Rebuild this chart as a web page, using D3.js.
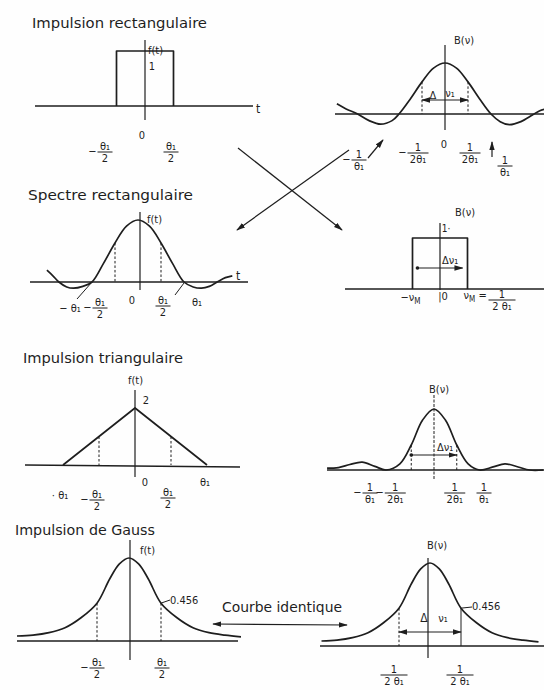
<!DOCTYPE html>
<html><head><meta charset="utf-8">
<script src="https://cdn.jsdelivr.net/npm/d3@7"></script>
<style>
html,body{margin:0;padding:0;background:#fff;}
svg{display:block;}
text{font-family:"DejaVu Sans Condensed","Liberation Sans Narrow","DejaVu Sans",sans-serif;fill:#1e1e1e;}
</style></head><body><svg id="fig" width="544" height="690"></svg>
<script>
// ---- panel titles ----
const titles = ["Impulsion rectangulaire", "Spectre rectangulaire", "Impulsion triangulaire", "Impulsion de Gauss"];
const middleCaption = "Courbe identique";
const gaussLevel = "0.456";

// ---- curves (x, value) ----
// rectangular pulse, x in θ₁/2, height 1
const rectPulse = [[-1, 0], [-1, 1], [1, 1], [1, 0]];
// its spectrum B(ν), x in 1/θ₁
const sincSpectrum = [[-2.35, 0.2], [-2.15, 0.1], [-1.9, 0], [-1.65, -0.13], [-1.4, -0.2], [-1.15, -0.13], [-1, 0],
  [-0.75, 0.3], [-0.5, 0.63], [-0.25, 0.9], [0, 1], [0.25, 0.9], [0.5, 0.63], [0.75, 0.3], [1, 0],
  [1.2, -0.15], [1.4, -0.21], [1.65, -0.15], [1.9, -0.02], [2.05, 0.06], [2.2, 0.1]];
// sinc pulse in time, x in θ₁
const sincTime = [[-1.98, 0.19], [-1.85, 0.1], [-1.72, 0], [-1.55, -0.08], [-1.4, -0.1], [-1.2, -0.07], [-1, 0],
  [-0.75, 0.3], [-0.5, 0.63], [-0.25, 0.9], [0, 1], [0.25, 0.9], [0.5, 0.63], [0.75, 0.3], [1, 0],
  [1.2, -0.08], [1.38, -0.1], [1.55, -0.07], [1.72, 0], [1.9, 0.07], [2.05, 0.1]];
// band-limited spectrum, x in ν_M, height 1
const rectSpectrum = [[-1, 0], [-1, 1], [1, 1], [1, 0]];
// triangular pulse, x in θ₁, peak 2
const triangle = [[-1, 0], [0, 2], [1, 0]];
// its spectrum, x in 1/θ₁
const sincSquared = [[-2.35, 0.03], [-2.1, 0.04], [-1.85, 0.09], [-1.58, 0.13], [-1.3, 0.06], [-1.05, 0],
  [-0.75, 0.1], [-0.5, 0.41], [-0.25, 0.82], [0, 1], [0.25, 0.82], [0.5, 0.41], [0.75, 0.1], [1, 0],
  [1.3, 0.05], [1.56, 0.1], [1.85, 0.05], [2.1, 0], [2.4, 0]];
// gaussian, x in θ₁/2 (time) or 1/(2θ₁) (frequency); 0.456 at ±1
const gauss = [[-3.5, 0.06], [-3, 0.07], [-2.5, 0.1], [-2, 0.16], [-1.5, 0.28], [-1, 0.456], [-0.6, 0.75],
  [-0.3, 0.93], [0, 1], [0.3, 0.93], [0.6, 0.75], [1, 0.456], [1.5, 0.28], [2, 0.16], [2.5, 0.1],
  [3, 0.07], [3.5, 0.05]];

// ---- tick labels: value, sign, numerator / denominator (or plain text) ----
const ticksRectPulse = [{v: -1, sign: "−", num: "θ₁", den: "2"}, {v: 0, text: "0"}, {v: 1, num: "θ₁", den: "2"}];
const ticksSincSpec = [{v: -1, sign: "−", num: "1", den: "θ₁"}, {v: -0.5, sign: "−", num: "1", den: "2θ₁"},
  {v: 0, text: "0"}, {v: 0.5, num: "1", den: "2θ₁"}, {v: 1, num: "1", den: "θ₁"}];
const ticksSincTime = [{v: -1, text: "− θ₁"}, {v: -0.5, sign: "−", num: "θ₁", den: "2"}, {v: 0, text: "0"},
  {v: 0.5, num: "θ₁", den: "2"}, {v: 1, text: "θ₁"}];
const ticksTriangle = [{v: -1, text: "· θ₁"}, {v: -0.5, sign: "−", num: "θ₁", den: "2"}, {v: 0, text: "0"},
  {v: 0.5, num: "θ₁", den: "2"}, {v: 1, text: "θ₁"}];
const ticksSincSq = [{v: -1, sign: "−", num: "1", den: "θ₁"}, {v: -0.5, sign: "−", num: "1", den: "2θ₁"},
  {v: 0.5, num: "1", den: "2θ₁"}, {v: 1, num: "1", den: "θ₁"}];
const ticksGaussT = [{v: -1, sign: "−", num: "θ₁", den: "2"}, {v: 1, num: "θ₁", den: "2"}];
const ticksGaussF = [{v: -1, num: "1", den: "2 θ₁"}, {v: 1, num: "1", den: "2 θ₁"}];

// ---------------------------------------------------------------
const svg = d3.select("#fig");
const INK = "#1e1e1e";
svg.append("rect").attr("width", 544).attr("height", 690).attr("fill", "#fefefe");

const defs = svg.append("defs");
defs.append("marker").attr("id", "head").attr("viewBox", "0 0 10 6")
  .attr("refX", 9).attr("refY", 3).attr("markerWidth", 9).attr("markerHeight", 6)
  .attr("markerUnits", "userSpaceOnUse").attr("orient", "auto-start-reverse")
  .append("path").attr("d", "M0,0L10,3L0,6Z").attr("fill", INK);
defs.append("marker").attr("id", "dot").attr("viewBox", "0 0 4 4")
  .attr("refX", 2).attr("refY", 2).attr("markerWidth", 4).attr("markerHeight", 4)
  .attr("markerUnits", "userSpaceOnUse")
  .append("circle").attr("cx", 2).attr("cy", 2).attr("r", 1.8).attr("fill", INK);

function makePanel(o) {
  const x = d3.scaleLinear().domain([-1, 1]).range([o.cx - o.ux, o.cx + o.ux]);
  const y = d3.scaleLinear().domain([0, 1]).range([o.y0, o.y0 - o.yu]);
  const g = svg.append("g");
  // horizontal axis
  g.append("line").attr("x1", o.hx[0]).attr("x2", o.hx[1]).attr("y1", o.y0).attr("y2", o.y0 + (o.tilt || 0))
    .attr("stroke", INK).attr("stroke-width", 1.3);
  // vertical axis
  g.append("line").attr("x1", o.vx ?? o.cx).attr("x2", o.vx ?? o.cx).attr("y1", o.vy[0]).attr("y2", o.vy[1])
    .attr("stroke", INK).attr("stroke-width", o.vDash ? 1 : 1.2)
    .attr("stroke-dasharray", o.vDash || null);
  return {x, y, g};
}

function curve(p, data, smooth) {
  const line = d3.line().x(d => p.x(d[0])).y(d => p.y(d[1]))
    .curve(smooth ? d3.curveCatmullRom.alpha(0.5) : d3.curveLinear);
  p.g.append("path").attr("d", line(data)).attr("fill", "none")
    .attr("stroke", INK).attr("stroke-width", 1.7).attr("stroke-linejoin", "round");
}

// value of a curve at x (linear between samples) for the dotted drop lines
function valueAt(data, xv) {
  for (let i = 1; i < data.length; i++) {
    const a = data[i - 1], b = data[i];
    if (xv >= a[0] && xv <= b[0] && b[0] > a[0]) return a[1] + (b[1] - a[1]) * (xv - a[0]) / (b[0] - a[0]);
  }
  return 0;
}

function dropLine(p, data, xv, solid) {
  p.g.append("line").attr("x1", p.x(xv)).attr("x2", p.x(xv))
    .attr("y1", p.y(valueAt(data, xv))).attr("y2", p.y(0))
    .attr("stroke", INK).attr("stroke-width", 1).attr("stroke-dasharray", solid ? null : "2.5,2");
}

function txt(g, x, y, s, size, anchor) {
  return g.append("text").attr("x", x).attr("y", y).attr("font-size", size || 11)
    .attr("text-anchor", anchor || "middle").text(s);
}

function frac(g, x, barY, num, den, sign) {
  const w = Math.max(num.length, den.length) * 6 + 3;
  txt(g, x, barY - 2, num);
  g.append("line").attr("x1", x - w / 2).attr("x2", x + w / 2).attr("y1", barY).attr("y2", barY)
    .attr("stroke", INK).attr("stroke-width", 1);
  txt(g, x, barY + 10, den);
  if (sign) txt(g, x - w / 2 - 5, barY + 3, sign);
}

function tickLabels(p, ticks, layout) {
  ticks.forEach((t, i) => {
    const L = layout[i];
    const xx = p.x(t.v) + L.dx;
    if (t.text !== undefined) txt(p.g, xx, L.y, t.text);
    else frac(p.g, xx, L.y, t.num, t.den, t.sign);
  });
}

function arrow(x1, y1, x2, y2, both, startDot) {
  svg.append("line").attr("x1", x1).attr("y1", y1).attr("x2", x2).attr("y2", y2)
    .attr("stroke", INK).attr("stroke-width", 1.2)
    .attr("marker-end", "url(#head)")
    .attr("marker-start", both ? "url(#head)" : (startDot ? "url(#dot)" : null));
}

function title(s, x, y, w) {
  svg.append("text").attr("x", x).attr("y", y).attr("font-size", 14.5)
    .attr("textLength", w).attr("lengthAdjust", "spacingAndGlyphs").text(s);
}

// ---- 1. rectangular pulse ----
title(titles[0], 32, 28, 175);
const p1 = makePanel({cx: 145, ux: 28.5, y0: 106, yu: 55, hx: [35, 253], vy: [40, 120]});
curve(p1, rectPulse, false);
txt(p1.g, 148, 54, "f(t)", 11, "start");
txt(p1.g, 152, 70, "1");
txt(p1.g, 258, 113, "t", 12);
tickLabels(p1, ticksRectPulse, [{dx: -11.5, y: 152}, {dx: -3, y: 139}, {dx: -2.5, y: 152}]);

// ---- 2. sinc spectrum ----
const p2 = makePanel({cx: 445, ux: 46, y0: 114, yu: 51, hx: [335, 544], vy: [45, 130]});
curve(p2, sincSpectrum, true);
[-0.5, 0.5].forEach(v => dropLine(p2, sincSpectrum, v));
txt(p2.g, 454, 44, "B(ν)", 11, "start");
txt(p2.g, 433, 99, "Δ", 11);
txt(p2.g, 450, 97, "ν₁", 11);
arrow(p2.x(-0.5), 100, p2.x(0.5), 100, true);
tickLabels(p2, ticksSincSpec, [{dx: -40, y: 160}, {dx: -4, y: 153}, {dx: -1, y: 148}, {dx: 2, y: 153}, {dx: 14, y: 166}]);
arrow(368, 158, 383, 140);
arrow(492, 157, 492, 142);

// ---- crossing arrows ----
arrow(238, 148, 342, 230);
arrow(349, 150, 237, 230);

// ---- 3. sinc pulse in time ----
title(titles[1], 28, 200, 165);
const p3 = makePanel({cx: 138, ux: 46, y0: 282, yu: 62, hx: [30, 248], vy: [212, 290], vx: 140});
curve(p3, sincTime, true);
[-0.5, 0.5].forEach(v => dropLine(p3, sincTime, v));
txt(p3.g, 147, 223, "f(t)", 11, "start");
txt(p3.g, 238, 280, "t", 12);
p3.g.append("line").attr("x1", p3.x(-1)).attr("y1", 282).attr("x2", 77).attr("y2", 299).attr("stroke", INK);
p3.g.append("line").attr("x1", p3.x(1)).attr("y1", 283).attr("x2", 175).attr("y2", 295).attr("stroke", INK);
tickLabels(p3, ticksSincTime, [{dx: -22, y: 312}, {dx: -15, y: 308}, {dx: -6, y: 304}, {dx: 2, y: 306}, {dx: 13, y: 306}]);

// ---- 4. band-limited spectrum ----
const p4 = makePanel({cx: 440, ux: 27.5, y0: 289, yu: 51, hx: [345, 544], vy: [223, 290]});
curve(p4, rectSpectrum, false);
txt(p4.g, 455, 216, "B(ν)", 11, "start");
txt(p4.g, 446, 232, "1·", 10);
txt(p4.g, 442, 264, "Δν₁", 11, "start");
arrow(p4.x(-0.82), 268, p4.x(0.82), 268, false, true);
{
  const t1 = p4.g.append("text").attr("x", p4.x(-1) - 12).attr("y", 301).attr("font-size", 11);
  t1.append("tspan").text("−ν");
  t1.append("tspan").attr("font-size", 8).attr("dy", 3).text("M");
  txt(p4.g, p4.x(0) + 3, 300, "|0", 11);
  const t2 = p4.g.append("text").attr("x", p4.x(1) - 4).attr("y", 299).attr("font-size", 11);
  t2.append("tspan").text("ν");
  t2.append("tspan").attr("font-size", 8).attr("dy", 3).text("M");
  t2.append("tspan").attr("dy", -3).text(" =");
  frac(p4.g, 502, 300, "1", "2 θ₁");
}

// ---- 5. triangular pulse ----
title(titles[2], 23, 363, 160);
const p5 = makePanel({cx: 135, ux: 72, y0: 465, yu: 28.5, hx: [25, 240], vy: [390, 477], tilt: 2});
curve(p5, triangle, false);
[-0.5, 0.5].forEach(v => dropLine(p5, triangle, v));
txt(p5.g, 128, 384, "f(t)", 11, "start");
txt(p5.g, 146, 404, "2", 11);
tickLabels(p5, ticksTriangle, [{dx: -3, y: 499}, {dx: -2, y: 500}, {dx: 10, y: 486}, {dx: -3, y: 498}, {dx: -2, y: 486}]);

// ---- 6. sinc² spectrum ----
const p6 = makePanel({cx: 434, ux: 45.5, y0: 470, yu: 61, hx: [327, 544], vy: [395, 480], vDash: "3,1.5"});
curve(p6, sincSquared, true);
[-0.5, 0.5].forEach(v => dropLine(p6, sincSquared, v));
txt(p6.g, 429, 393, "B(ν)", 11, "start");
txt(p6.g, 437, 451, "Δν₁", 11, "start");
arrow(p6.x(-0.5), 455, p6.x(0.5), 455, false, true);
tickLabels(p6, ticksSincSq, [{dx: -18.5, y: 493}, {dx: -16, y: 493}, {dx: -2, y: 493}, {dx: 4.5, y: 493}]);

// ---- 7. gaussian pulse ----
title(titles[3], 15, 535, 140);
const p7 = makePanel({cx: 129, ux: 32, y0: 641, yu: 83, hx: [17, 238], vy: [540, 660], vx: 130});
curve(p7, gauss, true);
[-1, 1].forEach(v => dropLine(p7, gauss, v));
txt(p7.g, 140, 554, "f(t)", 11, "start");
p7.g.append("line").attr("x1", p7.x(1)).attr("y1", p7.y(0.456)).attr("x2", 170).attr("y2", 600).attr("stroke", INK);
txt(p7.g, 170, 604, gaussLevel, 11, "start");
tickLabels(p7, ticksGaussT, [{dx: 0, y: 668}, {dx: 1, y: 668}]);

// ---- middle caption ----
svg.append("text").attr("x", 222).attr("y", 612).attr("font-size", 13.5)
  .attr("textLength", 120).attr("lengthAdjust", "spacingAndGlyphs").text(middleCaption);
arrow(213, 624, 347, 625, true);

// ---- 8. gaussian spectrum ----
const p8 = makePanel({cx: 430, ux: 31, y0: 646, yu: 83, hx: [320, 544], vy: [558, 658], vx: 428});
curve(p8, gauss, true);
dropLine(p8, gauss, -1);
dropLine(p8, gauss, 1, true);
txt(p8.g, 427, 549, "B(ν)", 11, "start");
p8.g.append("line").attr("x1", p8.x(1)).attr("y1", p8.y(0.456)).attr("x2", 472).attr("y2", 607).attr("stroke", INK);
txt(p8.g, 472, 610, gaussLevel, 11, "start");
txt(p8.g, 424, 622, "Δ", 12);
txt(p8.g, 443, 622, "ν₁", 11);
arrow(p8.x(-1), 632, p8.x(1), 632, true);
tickLabels(p8, ticksGaussF, [{dx: -5, y: 675}, {dx: -1, y: 675}]);
</script></body></html>
